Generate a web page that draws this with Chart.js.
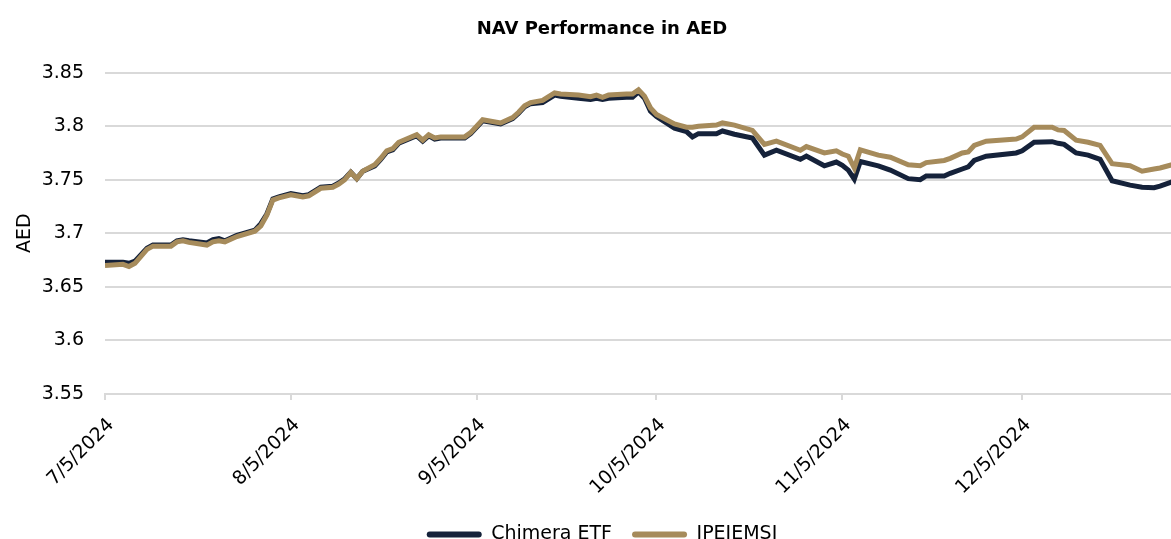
<!DOCTYPE html>
<html>
<head>
<meta charset="utf-8">
<title>NAV Performance in AED</title>
<script src="https://cdn.jsdelivr.net/npm/chart.js@4.4.1/dist/chart.umd.min.js"></script>
<style>
    html, body { margin: 0; padding: 0; background: #fff; overflow: hidden; }
    #wrap { width: 1200px; height: 554px; }
</style>
</head>
<body>
<div id="wrap"><canvas id="navChart" width="1200" height="554"></canvas></div>
<script>
// Dates (m/d/yyyy)
const dates = [
    '7/5/2024', '7/8/2024', '7/9/2024', '7/10/2024', '7/12/2024', '7/13/2024', '7/16/2024', '7/17/2024',
    '7/18/2024', '7/19/2024', '7/22/2024', '7/23/2024', '7/24/2024', '7/25/2024', '7/27/2024', '7/30/2024',
    '7/31/2024', '8/1/2024', '8/2/2024', '8/3/2024', '8/5/2024', '8/7/2024', '8/8/2024', '8/10/2024',
    '8/12/2024', '8/13/2024', '8/14/2024', '8/15/2024', '8/16/2024', '8/17/2024', '8/19/2024', '8/20/2024',
    '8/21/2024', '8/22/2024', '8/23/2024', '8/26/2024', '8/27/2024', '8/28/2024', '8/29/2024', '8/30/2024',
    '9/3/2024', '9/4/2024', '9/6/2024', '9/9/2024', '9/11/2024', '9/12/2024', '9/13/2024', '9/14/2024',
    '9/16/2024', '9/18/2024', '9/19/2024', '9/22/2024', '9/24/2024', '9/25/2024', '9/26/2024', '9/27/2024',
    '9/30/2024', '10/1/2024', '10/2/2024', '10/3/2024', '10/4/2024', '10/5/2024', '10/8/2024', '10/10/2024',
    '10/11/2024', '10/12/2024', '10/15/2024', '10/16/2024', '10/18/2024', '10/21/2024', '10/23/2024', '10/25/2024',
    '10/29/2024', '10/30/2024', '11/2/2024', '11/4/2024', '11/5/2024', '11/6/2024', '11/7/2024', '11/8/2024',
    '11/11/2024', '11/13/2024', '11/16/2024', '11/18/2024', '11/19/2024', '11/22/2024', '11/23/2024', '11/25/2024',
    '11/26/2024', '11/27/2024', '11/29/2024', '12/4/2024', '12/5/2024', '12/7/2024', '12/10/2024', '12/11/2024',
    '12/12/2024', '12/14/2024', '12/16/2024', '12/18/2024', '12/20/2024', '12/23/2024', '12/25/2024', '12/27/2024',
    '12/28/2024', '12/30/2024'
];

const chimeraEtf = [
    3.673, 3.673, 3.672, 3.674, 3.686, 3.689, 3.689, 3.693,
    3.694, 3.693, 3.691, 3.694, 3.695, 3.693, 3.698, 3.703,
    3.709, 3.718, 3.732, 3.734, 3.737, 3.735, 3.736, 3.743,
    3.744, 3.747, 3.751, 3.757, 3.751, 3.758, 3.763, 3.769,
    3.776, 3.778, 3.784, 3.791, 3.786, 3.791, 3.788, 3.789,
    3.789, 3.793, 3.805, 3.802, 3.807, 3.812, 3.818, 3.821,
    3.822, 3.829, 3.828, 3.826, 3.825, 3.826, 3.825, 3.826,
    3.827, 3.827, 3.832, 3.826, 3.814, 3.809, 3.798, 3.795,
    3.790, 3.793, 3.793, 3.7955, 3.7925, 3.789, 3.773, 3.7775,
    3.769, 3.772, 3.763, 3.7665, 3.7635, 3.759, 3.7505, 3.767,
    3.763, 3.759, 3.751, 3.750, 3.7535, 3.7535, 3.756, 3.760,
    3.762, 3.768, 3.772, 3.775, 3.777, 3.785, 3.7855, 3.784,
    3.783, 3.775, 3.773, 3.769, 3.749, 3.745, 3.743, 3.7425,
    3.744, 3.748
];

const jpeiemsi = [
    3.670, 3.671, 3.669, 3.672, 3.685, 3.688, 3.688, 3.692,
    3.693, 3.6915, 3.689, 3.692, 3.693, 3.692, 3.697, 3.702,
    3.707, 3.717, 3.731, 3.733, 3.736, 3.734, 3.735, 3.742,
    3.743, 3.746, 3.750, 3.757, 3.751, 3.758, 3.764, 3.770,
    3.777, 3.779, 3.785, 3.792, 3.787, 3.792, 3.789, 3.790,
    3.790, 3.794, 3.806, 3.803, 3.808, 3.813, 3.819, 3.822,
    3.824, 3.831, 3.830, 3.829, 3.8275, 3.829, 3.827, 3.829,
    3.830, 3.830, 3.834, 3.828, 3.817, 3.811, 3.802, 3.799,
    3.799, 3.800, 3.801, 3.803, 3.801, 3.796, 3.783, 3.786,
    3.7775, 3.781, 3.775, 3.777, 3.774, 3.772, 3.761, 3.778,
    3.773, 3.771, 3.764, 3.763, 3.766, 3.768, 3.770, 3.775,
    3.776, 3.782, 3.786, 3.788, 3.790, 3.799, 3.799, 3.7965,
    3.796, 3.787, 3.785, 3.782, 3.765, 3.763, 3.758, 3.760,
    3.761, 3.764
];

// Axis ticks
const xTickDates = ['7/5/2024', '8/5/2024', '9/5/2024', '10/5/2024', '11/5/2024', '12/5/2024'];
const xEndDate = '1/3/2025';
const yTickValues = [3.55, 3.6, 3.65, 3.7, 3.75, 3.8, 3.85];

// Convert m/d/yyyy to day offset from the first date
function toDays(str) {
    const [m, d, y] = str.split('/').map(Number);
    const [m0, d0, y0] = dates[0].split('/').map(Number);
    return Math.round((Date.UTC(y, m - 1, d) - Date.UTC(y0, m0 - 1, d0)) / 86400000);
}

function fromDays(n) {
    const [m0, d0, y0] = dates[0].split('/').map(Number);
    const dt = new Date(Date.UTC(y0, m0 - 1, d0) + n * 86400000);
    return (dt.getUTCMonth() + 1) + '/' + dt.getUTCDate() + '/' + dt.getUTCFullYear();
}

const FONT = "'DejaVu Sans', Verdana, sans-serif";
const GRID = '#D9D9D9';

function renderNavChart() {
    const ctx = document.getElementById('navChart').getContext('2d');

    new Chart(ctx, {
        type: 'line',
        data: {
            datasets: [{
                label: 'Chimera ETF',
                data: dates.map((d, i) => ({ x: toDays(d), y: chimeraEtf[i] })),
                borderColor: '#15223A',
                backgroundColor: '#15223A',
                borderWidth: 5,
                pointRadius: 0,
                tension: 0,
                order: 2
            }, {
                label: 'JPEIEMSI',
                data: dates.map((d, i) => ({ x: toDays(d), y: jpeiemsi[i] })),
                borderColor: '#A68B5B',
                backgroundColor: '#A68B5B',
                borderWidth: 5,
                pointRadius: 0,
                tension: 0,
                order: 1
            }]
        },
        options: {
            responsive: false,
            animation: false,
            layout: {
                padding: { left: 8, right: 4, top: 8, bottom: 0 }
            },
            plugins: {
                title: {
                    display: true,
                    text: 'NAV Performance in AED',
                    color: '#000',
                    font: { family: FONT, size: 18, weight: 'bold' },
                    padding: { top: 11, bottom: 32 }
                },
                legend: {
                    position: 'bottom',
                    labels: {
                        color: '#000',
                        font: { family: FONT, size: 19 },
                        boxWidth: 55,
                        boxHeight: 6,
                        useBorderRadius: true,
                        borderRadius: 3,
                        padding: 20,
                        sort: (a, b) => a.datasetIndex - b.datasetIndex,
                        generateLabels: chart =>
                            Chart.defaults.plugins.legend.labels.generateLabels(chart)
                                .map(l => Object.assign(l, { lineWidth: 0 }))
                    }
                },
                tooltip: { enabled: false }
            },
            scales: {
                x: {
                    type: 'linear',
                    min: 0,
                    max: toDays(xEndDate),
                    afterBuildTicks: scale => {
                        scale.ticks = xTickDates.map(d => ({ value: toDays(d) }));
                    },
                    afterFit: scale => { scale.height = 111; },
                    grid: {
                        drawOnChartArea: false,
                        drawTicks: true,
                        tickLength: 6,
                        color: GRID,
                        lineWidth: 2
                    },
                    border: { display: true, color: GRID, width: 2 },
                    ticks: {
                        autoSkip: false,
                        minRotation: 45,
                        maxRotation: 45,
                        padding: 14,
                        labelOffset: 6,
                        color: '#000',
                        font: { family: FONT, size: 19 },
                        callback: value => fromDays(value)
                    }
                },
                y: {
                    min: 3.55,
                    max: 3.85,
                    afterBuildTicks: scale => {
                        scale.ticks = yTickValues.map(v => ({ value: v }));
                    },
                    afterFit: scale => { scale.width = 97; },
                    title: {
                        display: true,
                        text: 'AED',
                        color: '#000',
                        font: { family: FONT, size: 19 },
                        padding: { top: 6, bottom: 4 }
                    },
                    grid: {
                        drawTicks: false,
                        color: GRID,
                        lineWidth: 2
                    },
                    border: { display: false },
                    ticks: {
                        padding: 21,
                        color: '#000',
                        font: { family: FONT, size: 19 },
                        callback: value => String(Number(value.toFixed(2)))
                    }
                }
            }
        }
    });
}

window.onload = function() {
    renderNavChart();
};
</script>
</body>
</html>
